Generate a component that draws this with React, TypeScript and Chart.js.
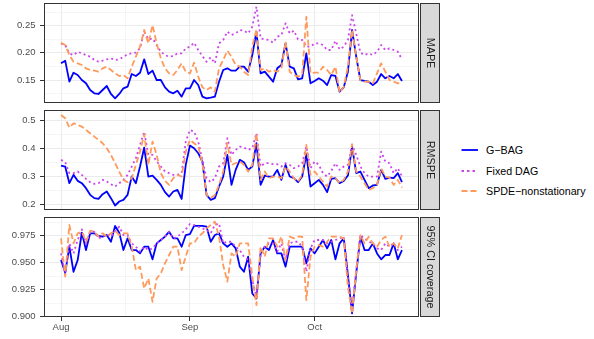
import React, { useEffect, useRef } from 'react';
import { Chart, registerables } from 'chart.js';

Chart.register(...registerables);

// ---- data -----------------------------------------------------------
// day offset from 1 August (daily values, 1 Aug .. 22 Oct)
const dayIndex: number[] = Array.from({ length: 83 }, (_, i) => i);
const monthTicks = [0, 31, 61];
const monthLabels = ['Aug', 'Sep', 'Oct'];
const monthMinor = [15.5, 46, 76.5];

const seriesNames = ['G\u2212BAG', 'Fixed DAG', 'SPDE\u2212nonstationary'];
const stripLabels = ['MAPE', 'RMSPE', '95% CI coverage'];

const mapeGBAG = [
  0.1807, 0.1856, 0.1469, 0.1635, 0.1592, 0.15, 0.1439, 0.1316, 0.1255, 0.1243,
  0.1316, 0.139, 0.1243, 0.1163, 0.1243, 0.1347, 0.1377, 0.161, 0.1574, 0.1635,
  0.188, 0.161, 0.1672, 0.15, 0.15, 0.1365, 0.1285, 0.1255, 0.1304, 0.1194,
  0.1347, 0.1347, 0.15, 0.1408, 0.1194, 0.1163, 0.1175, 0.1194, 0.1469, 0.1684,
  0.1715, 0.1672, 0.1672, 0.1745, 0.1745, 0.1653, 0.196, 0.2389, 0.1623, 0.1653,
  0.1561, 0.1469, 0.1715, 0.1776, 0.2174, 0.1745, 0.1715, 0.1512, 0.1531, 0.199,
  0.1439, 0.1482, 0.1531, 0.1488, 0.1408, 0.1592, 0.1574, 0.1285, 0.1365, 0.1653,
  0.242, 0.1929, 0.15, 0.1482, 0.1469, 0.1408, 0.1469, 0.161, 0.1531, 0.1574,
  0.1531, 0.161, 0.1482,
];
const mapeFixed = [
  0.2174, 0.2144, 0.199, 0.196, 0.2021, 0.199, 0.196, 0.1929, 0.1868, 0.1837,
  0.1856, 0.188, 0.1898, 0.1868, 0.188, 0.1929, 0.1972, 0.199, 0.2003, 0.2082,
  0.2389, 0.2248, 0.2266, 0.2144, 0.2021, 0.196, 0.1929, 0.1941, 0.199, 0.199,
  0.2082, 0.2113, 0.2187, 0.2052, 0.1941, 0.1837, 0.1917, 0.1807, 0.2174, 0.2236,
  0.2389, 0.2328, 0.2358, 0.242, 0.2407, 0.2358, 0.2481, 0.2849, 0.2266, 0.2248,
  0.2236, 0.2187, 0.2297, 0.2328, 0.2542, 0.2358, 0.2407, 0.2248, 0.2236, 0.2113,
  0.2113, 0.2174, 0.2174, 0.2144, 0.2052, 0.2052, 0.2223, 0.2064, 0.2113, 0.2236,
  0.2695, 0.2358, 0.2003, 0.196, 0.199, 0.196, 0.2021, 0.2144, 0.2052, 0.2082,
  0.2052, 0.2021, 0.188,
];
const mapeSPDE = [
  0.2187, 0.2144, 0.196, 0.1837, 0.1807, 0.1776, 0.1715, 0.1684, 0.1672, 0.1653,
  0.1715, 0.1745, 0.1684, 0.1623, 0.1574, 0.1592, 0.1531, 0.1745, 0.1929, 0.2113,
  0.242, 0.2174, 0.2511, 0.2174, 0.1898, 0.1715, 0.1623, 0.1592, 0.1684, 0.1807,
  0.1653, 0.1623, 0.1819, 0.1561, 0.1365, 0.1316, 0.1365, 0.1285, 0.1715, 0.1868,
  0.2039, 0.1929, 0.1776, 0.1745, 0.1653, 0.1592, 0.2113, 0.2432, 0.1684, 0.1715,
  0.1653, 0.1684, 0.1653, 0.1715, 0.2205, 0.1653, 0.1592, 0.1561, 0.1592, 0.2665,
  0.1623, 0.1635, 0.1635, 0.1745, 0.1684, 0.1592, 0.1745, 0.1267, 0.1377, 0.1745,
  0.242, 0.1929, 0.15, 0.1469, 0.1469, 0.1439, 0.1623, 0.1807, 0.1653, 0.15,
  0.1469, 0.1439, 0.1469,
];

const rmspeGBAG = [
  0.339, 0.3355, 0.2757, 0.3056, 0.2841, 0.2757, 0.2578, 0.2339, 0.222, 0.2196,
  0.2363, 0.2458, 0.222, 0.1957, 0.21, 0.216, 0.2339, 0.2996, 0.2757, 0.3355,
  0.4036, 0.2996, 0.3032, 0.2877, 0.2697, 0.2435, 0.2279, 0.2458, 0.2518, 0.2196,
  0.3414, 0.4108, 0.4012, 0.3833, 0.3534, 0.2339, 0.216, 0.222, 0.2638, 0.2996,
  0.3773, 0.2697, 0.3235, 0.3594, 0.351, 0.3235, 0.3355, 0.4191, 0.2697, 0.3032,
  0.2996, 0.2996, 0.3235, 0.2877, 0.3414, 0.2996, 0.2936, 0.2793, 0.2996, 0.3797,
  0.2638, 0.2757, 0.2877, 0.2697, 0.2435, 0.2913, 0.2936, 0.2757, 0.2841, 0.3032,
  0.4072, 0.3116, 0.3175, 0.2877, 0.2578, 0.2674, 0.2697, 0.3235, 0.2913, 0.296,
  0.2936, 0.3116, 0.2793,
];
const rmspeFixed = [
  0.3594, 0.351, 0.3116, 0.3116, 0.3175, 0.3056, 0.2913, 0.2793, 0.2733, 0.2757,
  0.2877, 0.2817, 0.2721, 0.2638, 0.2757, 0.2877, 0.3056, 0.3355, 0.3653, 0.4131,
  0.4609, 0.3773, 0.3773, 0.3534, 0.3355, 0.3175, 0.3116, 0.3056, 0.3056, 0.3116,
  0.4251, 0.4669, 0.4609, 0.4251, 0.3594, 0.2936, 0.2793, 0.2936, 0.3355, 0.3474,
  0.437, 0.3773, 0.3952, 0.4072, 0.4036, 0.3952, 0.4012, 0.455, 0.3355, 0.3474,
  0.3474, 0.3438, 0.3438, 0.3355, 0.3474, 0.3414, 0.3295, 0.3355, 0.3474, 0.4072,
  0.3295, 0.3534, 0.3414, 0.3116, 0.2996, 0.3199, 0.3474, 0.3235, 0.3355, 0.3414,
  0.4131, 0.3773, 0.3355, 0.3116, 0.2996, 0.2996, 0.2996, 0.3892, 0.3534, 0.3474,
  0.3116, 0.3295, 0.2996,
];
const rmspeSPDE = [
  0.5207, 0.5087, 0.4753, 0.4908, 0.4848, 0.4789, 0.4669, 0.455, 0.443, 0.4311,
  0.4191, 0.4012, 0.3773, 0.3474, 0.3175, 0.2877, 0.2793, 0.2936, 0.3414, 0.3892,
  0.4514, 0.3414, 0.4251, 0.3773, 0.3116, 0.2841, 0.2697, 0.2936, 0.3056, 0.2996,
  0.3892, 0.4311, 0.4191, 0.4072, 0.3474, 0.2339, 0.222, 0.2339, 0.2697, 0.3175,
  0.4191, 0.3414, 0.3474, 0.3534, 0.3414, 0.3175, 0.3414, 0.455, 0.2877, 0.3175,
  0.2936, 0.2996, 0.2996, 0.2936, 0.3355, 0.3175, 0.2936, 0.2817, 0.3056, 0.4131,
  0.3056, 0.3175, 0.2996, 0.2817, 0.2638, 0.2996, 0.2936, 0.2757, 0.2877, 0.3175,
  0.4155, 0.3175, 0.2996, 0.2757, 0.2518, 0.2578, 0.2697, 0.3295, 0.2996, 0.296,
  0.2697, 0.2877, 0.2602,
];

const covGBAG = [
  0.9524, 0.9407, 0.9648, 0.9416, 0.9524, 0.9778, 0.9617, 0.9772, 0.9772, 0.9747,
  0.9741, 0.9756, 0.9694, 0.984, 0.9778, 0.9617, 0.9725, 0.9617, 0.9617, 0.9586,
  0.9648, 0.9648, 0.9531, 0.9679, 0.971, 0.9741, 0.9787, 0.9725, 0.9725, 0.9648,
  0.9756, 0.9765, 0.984, 0.984, 0.984, 0.9833, 0.9694, 0.9756, 0.9772, 0.9679,
  0.9648, 0.9679, 0.9633, 0.9463, 0.9416, 0.9555, 0.9215, 0.9169, 0.9586, 0.9648,
  0.9617, 0.971, 0.9586, 0.9586, 0.9463, 0.9648, 0.9648, 0.9648, 0.9648, 0.9494,
  0.9633, 0.9586, 0.9648, 0.971, 0.9633, 0.971, 0.9531, 0.9679, 0.9725, 0.9385,
  0.903, 0.9401, 0.9741, 0.9617, 0.9617, 0.9679, 0.9586, 0.9531, 0.9571, 0.9571,
  0.9679, 0.9531, 0.9617,
];
const covFixed = [
  0.9586, 0.9385, 0.9679, 0.9586, 0.971, 0.9809, 0.9679, 0.9787, 0.9787, 0.9725,
  0.9741, 0.9765, 0.9741, 0.9796, 0.9833, 0.9756, 0.9756, 0.9679, 0.9648, 0.9602,
  0.9648, 0.9617, 0.9633, 0.9679, 0.971, 0.9741, 0.9787, 0.9725, 0.9741, 0.9772,
  0.9809, 0.9858, 0.9849, 0.9833, 0.9818, 0.9803, 0.9772, 0.9849, 0.9864, 0.9679,
  0.9694, 0.9694, 0.9648, 0.9617, 0.9555, 0.9524, 0.9339, 0.9185, 0.9586, 0.9648,
  0.9679, 0.9679, 0.9602, 0.9679, 0.9524, 0.9679, 0.9694, 0.9694, 0.9648, 0.9416,
  0.9633, 0.971, 0.971, 0.971, 0.9679, 0.9694, 0.971, 0.9725, 0.9741, 0.937,
  0.9061, 0.9432, 0.9756, 0.9725, 0.9694, 0.9679, 0.9633, 0.9617, 0.9679, 0.9648,
  0.9679, 0.9617, 0.9648,
];
const covSPDE = [
  0.9725, 0.937, 0.9849, 0.9679, 0.9772, 0.9787, 0.9694, 0.9796, 0.9787, 0.9741,
  0.9772, 0.9741, 0.9772, 0.9796, 0.9756, 0.9772, 0.9772, 0.9648, 0.9432, 0.9463,
  0.9262, 0.9354, 0.9138, 0.9354, 0.9401, 0.9494, 0.9571, 0.9648, 0.9648, 0.9432,
  0.9555, 0.9679, 0.9679, 0.9741, 0.9772, 0.9818, 0.9849, 0.988, 0.9741, 0.9478,
  0.9324, 0.9586, 0.9555, 0.9679, 0.9679, 0.9679, 0.937, 0.9107, 0.9648, 0.9555,
  0.9725, 0.9725, 0.9648, 0.9741, 0.9524, 0.9741, 0.9725, 0.9741, 0.9741, 0.9154,
  0.9555, 0.9648, 0.9663, 0.9648, 0.9694, 0.9741, 0.9741, 0.9741, 0.9725, 0.9277,
  0.903, 0.9432, 0.9756, 0.9679, 0.9741, 0.9679, 0.9648, 0.971, 0.9741, 0.9648,
  0.9679, 0.9633, 0.9756,
];

// y-axis breaks per panel
const mapeMajor = [0.15, 0.2, 0.25];
const mapeMinor = [0.125, 0.175, 0.225, 0.275];
const rmspeMajor = [0.2, 0.3, 0.4, 0.5];
const rmspeMinor = [0.25, 0.35, 0.45];
const covMajor = [0.9, 0.925, 0.95, 0.975];
const covMinor = [0.9125, 0.9375, 0.9625, 0.9875];

// ---- styling --------------------------------------------------------
const FONT = "'Liberation Sans', Arial, Helvetica, sans-serif";
const AXIS_FS = 9.5;
const STRIP_FS = 10.8;
const LEGEND_FS = 10.7;
const BLUE = '#0000FF';
const PURPLE = '#CC44EE';
const ORANGE = '#FF9A5C';
const GRID = '#EBEBEB';
const AXIS_TEXT = '#4D4D4D';
const DARK = '#333333';

const isIn = (v: number, arr: number[]) => arr.some((a) => Math.abs(a - v) < 1e-9);

type PanelCfg = {
  gbag: number[];
  fixed: number[];
  spde: number[];
  strip: string;
  min: number;
  max: number;
  major: number[];
  minor: number[];
  digits: number;
  showX: boolean;
  top: number;
  height: number;
};

const panels: PanelCfg[] = [
  { gbag: mapeGBAG, fixed: mapeFixed, spde: mapeSPDE, strip: stripLabels[0], min: 0.1077, max: 0.2917,
    major: mapeMajor, minor: mapeMinor, digits: 2, showX: false, top: 0, height: 104 },
  { gbag: rmspeGBAG, fixed: rmspeFixed, spde: rmspeSPDE, strip: stripLabels[1], min: 0.1795, max: 0.5384,
    major: rmspeMajor, minor: rmspeMinor, digits: 1, showX: false, top: 107, height: 104 },
  { gbag: covGBAG, fixed: covFixed, spde: covSPDE, strip: stripLabels[2], min: 0.8997, max: 0.9923,
    major: covMajor, minor: covMinor, digits: 3, showX: true, top: 214, height: 125 },
];

const CANVAS_W = 442;
const STRIP_X = 420;
const STRIP_W = 20;

const decorPlugin = (strip: string) => ({
  id: 'panelDecor',
  afterDraw(chart: any) {
    const { ctx, chartArea: a } = chart;
    ctx.save();
    ctx.strokeStyle = DARK;
    ctx.lineWidth = 1;
    ctx.strokeRect(a.left + 0.5, a.top + 0.5, a.right - a.left - 1, a.bottom - a.top - 1);
    ctx.fillStyle = '#D9D9D9';
    ctx.fillRect(STRIP_X, a.top, STRIP_W, a.bottom - a.top);
    ctx.strokeRect(STRIP_X + 0.5, a.top + 0.5, STRIP_W - 1, a.bottom - a.top - 1);
    ctx.translate(STRIP_X + STRIP_W / 2, (a.top + a.bottom) / 2);
    ctx.rotate(Math.PI / 2);
    ctx.fillStyle = '#1A1A1A';
    ctx.font = `${STRIP_FS}px ${FONT}`;
    ctx.textAlign = 'center';
    ctx.textBaseline = 'middle';
    ctx.fillText(strip, 0, 0);
    ctx.restore();
  },
});

function buildChart(canvas: HTMLCanvasElement, p: PanelCfg) {
  const toXY = (arr: number[]) => dayIndex.map((d, i) => ({ x: d, y: arr[i] }));
  const xMajor = monthTicks;
  return new Chart(canvas, {
    type: 'line',
    data: {
      datasets: [
        { label: seriesNames[2], data: toXY(p.spde), borderColor: ORANGE, borderDash: [6, 3], order: 0 },
        { label: seriesNames[1], data: toXY(p.fixed), borderColor: PURPLE, borderDash: [2, 3], order: 1 },
        { label: seriesNames[0], data: toXY(p.gbag), borderColor: BLUE, order: 2 },
      ],
    },
    options: {
      animation: false,
      responsive: false,
      events: [],
      layout: { padding: { left: 0, right: CANVAS_W - 419, top: 3, bottom: p.showX ? 0 : 1 } },
      elements: {
        point: { radius: 0 },
        line: { borderWidth: 1.8, tension: 0, borderCapStyle: 'butt', borderJoinStyle: 'round', fill: false },
      },
      plugins: { legend: { display: false }, tooltip: { enabled: false } },
      scales: {
        x: {
          type: 'linear',
          min: -4.1,
          max: 86.1,
          afterBuildTicks: (scale: any) => {
            scale.ticks = [...xMajor, ...monthMinor].sort((a, b) => a - b).map((v) => ({ value: v }));
          },
          afterFit: (scale: any) => {
            scale.height = p.showX ? 22 : 0;
            scale.paddingLeft = 0;
            scale.paddingRight = 0;
          },
          border: { display: false },
          grid: {
            color: GRID,
            lineWidth: (c: any) => (isIn(c.tick?.value, xMajor) ? 1 : 0.5),
            drawTicks: p.showX,
            tickLength: 4,
            tickWidth: 1,
            tickColor: (c: any) => (isIn(c.tick?.value, xMajor) ? DARK : 'rgba(0,0,0,0)'),
          },
          ticks: {
            display: p.showX,
            autoSkip: false,
            maxRotation: 0,
            padding: 1,
            color: AXIS_TEXT,
            font: { family: FONT, size: AXIS_FS },
            callback: (v: any) => {
              const i = xMajor.findIndex((m) => Math.abs(m - v) < 1e-9);
              return i >= 0 ? monthLabels[i] : '';
            },
          },
        },
        y: {
          type: 'linear',
          min: p.min,
          max: p.max,
          afterBuildTicks: (scale: any) => {
            scale.ticks = [...p.major, ...p.minor].sort((a, b) => a - b).map((v) => ({ value: v }));
          },
          afterFit: (scale: any) => {
            scale.width = 44;
            scale.paddingTop = 0;
            scale.paddingBottom = 0;
          },
          border: { display: false },
          grid: {
            color: GRID,
            lineWidth: (c: any) => (isIn(c.tick?.value, p.major) ? 1 : 0.5),
            drawTicks: true,
            tickLength: 4,
            tickWidth: 1,
            tickColor: (c: any) => (isIn(c.tick?.value, p.major) ? DARK : 'rgba(0,0,0,0)'),
          },
          ticks: {
            autoSkip: false,
            padding: 4.5,
            color: AXIS_TEXT,
            font: { family: FONT, size: AXIS_FS },
            callback: (v: any) => (isIn(v, p.major) ? Number(v).toFixed(p.digits) : ''),
          },
        },
      },
    },
    plugins: [decorPlugin(p.strip)],
  } as any);
}

const legendItems = [
  { label: seriesNames[0], color: BLUE, dash: '', y: 150 },
  { label: seriesNames[1], color: PURPLE, dash: '2.5 3', y: 170.5 },
  { label: seriesNames[2], color: ORANGE, dash: '6 3', y: 191 },
];

export default function App() {
  const refs = [useRef<HTMLCanvasElement>(null), useRef<HTMLCanvasElement>(null), useRef<HTMLCanvasElement>(null)];

  useEffect(() => {
    const charts = panels.map((p, i) => buildChart(refs[i].current as HTMLCanvasElement, p));
    return () => charts.forEach((c) => c.destroy());
  }, []);

  return (
    <div style={{ position: 'absolute', left: 0, top: 0, width: 594, height: 339, background: '#fff', overflow: 'hidden' }}>
      {panels.map((p, i) => (
        <canvas
          key={i}
          ref={refs[i]}
          width={CANVAS_W}
          height={p.height}
          style={{ position: 'absolute', left: 0, top: p.top, width: CANVAS_W, height: p.height }}
        />
      ))}
      {legendItems.map((it, i) => (
        <div key={i}>
          <svg
            width={18}
            height={10}
            style={{ position: 'absolute', left: 461, top: it.y - 5 }}
          >
            <line x1={0.5} y1={5} x2={17} y2={5} stroke={it.color} strokeWidth={1.8} strokeDasharray={it.dash || undefined} />
          </svg>
          <span
            style={{
              position: 'absolute',
              left: 486,
              top: it.y - 7,
              height: 14,
              lineHeight: '14px',
              fontFamily: FONT,
              fontSize: LEGEND_FS,
              color: '#000',
              whiteSpace: 'nowrap',
            }}
          >
            {it.label}
          </span>
        </div>
      ))}
    </div>
  );
}
